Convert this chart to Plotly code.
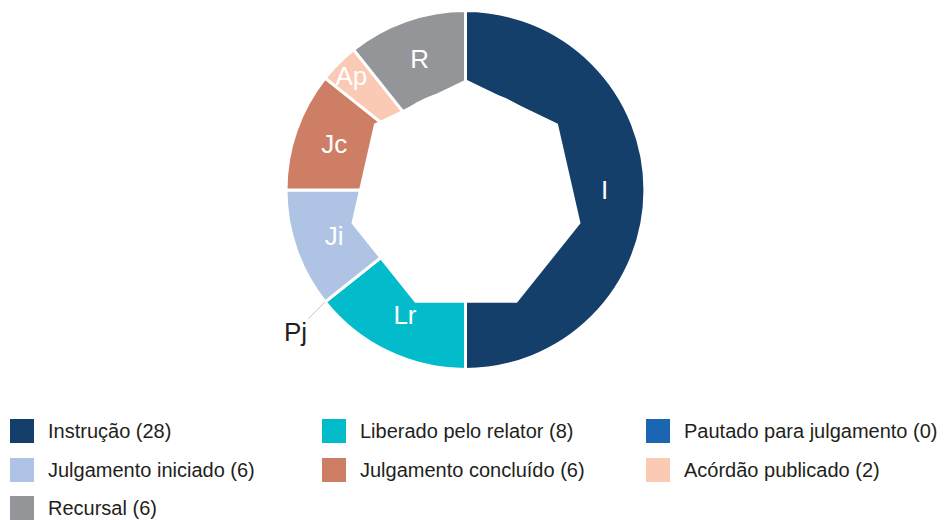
import math
import plotly.graph_objects as go

# Process stages, their short tags and counts
labels = [
    "Instrução",
    "Liberado pelo relator",
    "Pautado para julgamento",
    "Julgamento iniciado",
    "Julgamento concluído",
    "Acórdão publicado",
    "Recursal",
]
tags = ["I", "Lr", "Pj", "Ji", "Jc", "Ap", "R"]
values = [28, 8, 0, 6, 6, 2, 6]
colors = ["#143f6b", "#03bccb", "#1b66b2", "#afc4e5", "#cf7e66", "#fbcab4", "#939598"]

W, H = 946, 520
CX, CY, R = 465.5, 190.0, 179.5          # donut centre / outer radius (px)
HOLE_CX, HOLE_CY, HOLE_R = 466.0, 197.0, 117.5  # polygonal hole (px)
TEXT_DARK = "#231f20"
FONT = "Liberation Sans"


def px(x, y):
    """pixel position -> paper coordinates"""
    return x / W, 1 - y / H


slice_text = [t if v > 0 else "" for t, v in zip(tags, values)]

fig = go.Figure()
fig.add_trace(go.Pie(
    labels=labels,
    values=values,
    text=slice_text,
    textinfo="text",
    textposition="inside",
    insidetextorientation="horizontal",
    textfont=dict(family=FONT, size=26, color="white"),
    hole=0.55,
    sort=False,
    direction="clockwise",
    rotation=0,
    marker=dict(colors=colors, line=dict(color="white", width=3)),
    domain=dict(x=[(CX - R) / W, (CX + R) / W], y=[1 - (CY + R) / H, 1 - (CY - R) / H]),
    showlegend=False,
    hoverinfo="label+value",
))

# polygonal inner hole, one side per stage
n = len(labels)
pts = []
for k in range(n):
    a = 2 * math.pi * k / n
    pts.append(px(HOLE_CX + HOLE_R * math.sin(a), HOLE_CY - HOLE_R * math.cos(a)))
path = "M " + " L ".join(f"{x:.5f},{y:.5f}" for x, y in pts) + " Z"
shapes = [dict(type="path", path=path, xref="paper", yref="paper",
               fillcolor="white", line=dict(width=0), layer="above")]

annotations = []

# call-out for empty stages
total = sum(values)
cum = 0
for tag, v in zip(tags, values):
    if v == 0:
        ang = 2 * math.pi * cum / total
        ex, ey = CX + R * math.sin(ang), CY - R * math.cos(ang)
        x, y = px(ex, ey)
        annotations.append(dict(
            x=x, y=y, xref="paper", yref="paper", text=tag,
            showarrow=True, arrowhead=0, arrowwidth=1, arrowcolor="#c8c8c8",
            ax=-30, ay=30, standoff=0,
            font=dict(family=FONT, size=26, color=TEXT_DARK),
        ))
    cum += v

# legend: three columns
col_x = [10, 322, 646]
row_y = [431, 470, 508]
SQ = 24
for i, (lab, v, c) in enumerate(zip(labels, values, colors)):
    sx, sy = col_x[i % 3], row_y[i // 3]
    x0, y1 = px(sx, sy - SQ / 2)
    x1, y0 = px(sx + SQ, sy + SQ / 2)
    shapes.append(dict(type="rect", xref="paper", yref="paper",
                       x0=x0, x1=x1, y0=y0, y1=y1,
                       fillcolor=c, line=dict(width=0)))
    tx, ty = px(sx + 36, sy)
    annotations.append(dict(
        x=tx, y=ty, xref="paper", yref="paper", text=f"{lab} ({v})",
        showarrow=False, xanchor="left", yanchor="middle",
        font=dict(family=FONT, size=20, color=TEXT_DARK),
    ))

fig.update_layout(
    width=W, height=H,
    margin=dict(l=0, r=0, t=0, b=0),
    paper_bgcolor="white",
    plot_bgcolor="white",
    shapes=shapes,
    annotations=annotations,
    uniformtext=dict(minsize=26, mode="show"),
)

fig.write_html("out.html")
